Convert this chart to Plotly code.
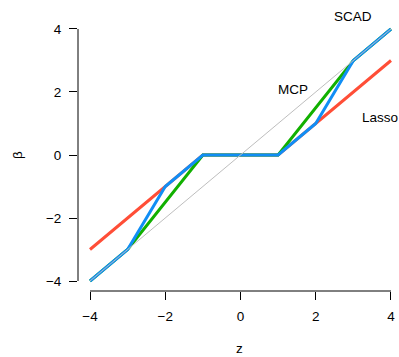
import plotly.graph_objects as go

z_lasso = [-4, -1, 1, 4]
b_lasso = [-3, 0, 0, 3]
z_mcp = [-4, -3, -1, 1, 3, 4]
b_mcp = [-4, -3, 0, 0, 3, 4]
z_scad = [-4, -3, -2, -1, 1, 2, 3, 4]
b_scad = [-4, -3, -1, 0, 0, 1, 3, 4]
z_id = [-4, 4]
b_id = [-4, 4]
ticks = [-4, -2, 0, 2, 4]
tick_labels = ["\u22124", "\u22122", "0", "2", "4"]

FONT = "Liberation Sans, Arial, sans-serif"
W, H = 399, 357
L, R, T, B = 78, 0, 19, 66
PW, PH = W - L - R, H - T - B


def px(xp):
    return (xp - L) / PW


def py(yp):
    return (H - B - yp) / PH


fig = go.Figure()
fig.add_trace(go.Scatter(x=z_lasso, y=b_lasso, mode="lines", line=dict(color="#FF4E37", width=3)))
fig.add_trace(go.Scatter(x=z_mcp, y=b_mcp, mode="lines", line=dict(color="#11B000", width=3)))
fig.add_trace(go.Scatter(x=z_scad, y=b_scad, mode="lines", line=dict(color="#108EF5", width=3)))
fig.add_trace(go.Scatter(x=z_id, y=b_id, mode="lines", line=dict(color="#BEBEBE", width=1)))

fig.update_layout(
    width=W, height=H,
    margin=dict(l=L, r=R, t=T, b=B),
    plot_bgcolor="white", paper_bgcolor="white",
    showlegend=False,
    font=dict(family=FONT, size=13.5, color="black"),
    xaxis=dict(range=[-4.319, 4.213], tickvals=ticks, ticktext=tick_labels,
               ticks="outside", ticklen=8, tickcolor="black", tickwidth=1,
               showgrid=False, zeroline=False, showline=False,
               ticklabelstandoff=5),
    yaxis=dict(range=[-4.317, 4.317], tickvals=ticks, ticktext=tick_labels,
               ticks="outside", ticklen=8, tickcolor="black", tickwidth=1,
               showgrid=False, zeroline=False, showline=False,
               ticklabelstandoff=5),
    shapes=[
        dict(type="line", xref="x", yref="paper", x0=-4, x1=4, y0=0, y1=0,
             line=dict(color="black", width=1)),
        dict(type="line", xref="paper", yref="y", x0=0, x1=0, y0=-4, y1=4,
             line=dict(color="black", width=1)),
    ],
)
labels = [("SCAD", 353, 16), ("MCP", 293, 90), ("Lasso", 380, 117), ("z", 240, 348)]
for txt, xp, yp in labels:
    fig.add_annotation(x=px(xp), y=py(yp), xref="paper", yref="paper", text=txt,
                       showarrow=False, xanchor="center", yanchor="middle")
fig.add_annotation(x=px(17), y=py(155), xref="paper", yref="paper", text="\u03b2",
                   textangle=-90, showarrow=False, xanchor="center", yanchor="middle")
fig.write_html("out.html")
